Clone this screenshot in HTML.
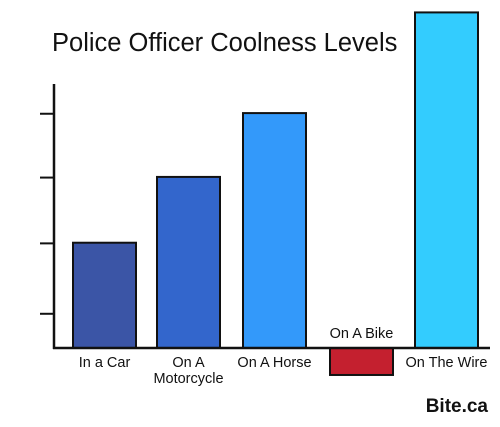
<!DOCTYPE html>
<html><head><meta charset="utf-8"><style>
body{margin:0;background:#fff}
svg{display:block;font-family:"Liberation Sans",sans-serif}
</style></head><body>
<svg width="500" height="427" viewBox="0 0 500 427">
<text x="52" y="51" font-size="25.5" fill="#111">Police Officer Coolness Levels</text>
<g id="plot"></g>
<text x="488" y="412" font-size="19" font-weight="bold" text-anchor="end" fill="#111">Bite.ca</text>
</svg>
<script>
const categories=["In a Car","On A Motorcycle","On A Horse","On A Bike","On The Wire"];
const values=[1.6,2.6,3.57,-0.41,5.1];
const tickValues=[0.52,1.59,2.59,3.56];
const colors=["#3b55a6","#3366cc","#3399fa","#c4202f","#33ccfe"];
const baseY=348, unit=65.8;
const y=v=>baseY-v*unit;
const xLeft=[73,157,243,330,415], barW=63;
const g=document.getElementById('plot');
const NS="http://www.w3.org/2000/svg";
function mk(t,a){const e=document.createElementNS(NS,t);for(const k in a)e.setAttribute(k,a[k]);g.appendChild(e);return e;}
categories.forEach((c,i)=>{
  const v=values[i];const top=Math.min(y(v),baseY),h=Math.abs(y(v)-baseY);
  const r=mk('rect',{x:xLeft[i],y:top,width:barW,height:h,fill:colors[i],stroke:'#111','stroke-width':2});
  
  
});
const ax=mk('line',{x1:54,y1:84,x2:54,y2:349,stroke:'#111','stroke-width':2.5});


const bx=mk('line',{x1:53,y1:348,x2:490,y2:348,stroke:'#111','stroke-width':2.5});


tickValues.forEach(t=>{
  const l=mk('line',{x1:40,y1:y(t),x2:54,y2:y(t),stroke:'#111','stroke-width':2});
  
  
});
const labelLines=[["In a Car"],["On A","Motorcycle"],["On A Horse"],["On A Bike"],["On The Wire"]];
categories.forEach((c,i)=>{
  const cx=xLeft[i]+barW/2;
  const ly=values[i]<0?baseY-10:baseY+19;
  labelLines[i].forEach((s,j)=>{
    const t=mk('text',{x:cx,y:ly+j*16,'text-anchor':'middle','font-size':14.5,fill:'#111'});
    t.textContent=s;
    
    
  });
});
</script>
</body></html>
